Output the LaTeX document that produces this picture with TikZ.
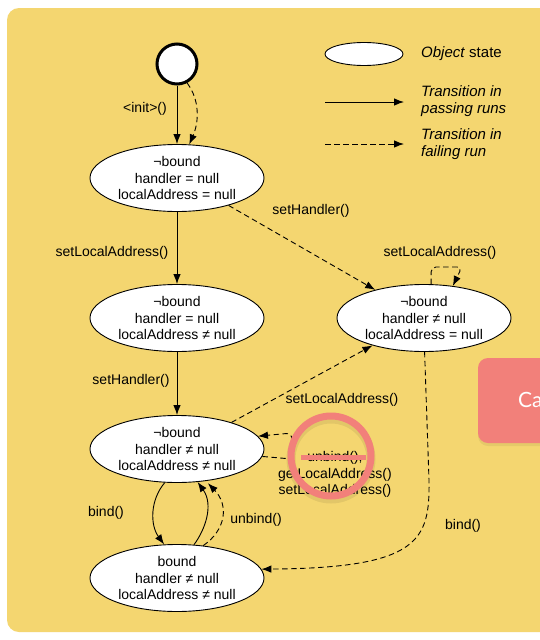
\documentclass[tikz,border=0pt]{standalone}
\usepackage{fontspec}
\setmainfont{Liberation Sans}
\newfontfamily\decofont{Lato}
\usetikzlibrary{arrows.meta,shapes.geometric}
\definecolor{bgyellow}{RGB}{244,214,112}
\definecolor{salmon}{RGB}{242,128,122}
\begin{document}
\begin{tikzpicture}[x=1pt,y=-1pt,
  state/.style={ellipse,draw,line width=0.9pt,fill=white,minimum width=174pt,minimum height=67pt,inner sep=0pt,align=center,font=\fontsize{14}{16.4}\selectfont},
  lbl/.style={inner sep=0pt,font=\fontsize{14}{16.4}\selectfont},
  legtext/.style={anchor=west,inner sep=0pt,align=left,font=\fontsize{15}{17}\selectfont},
  pass/.style={line width=0.9pt,-{Latex[length=10pt,width=7.5pt]}},
  fail/.style={pass,dash pattern=on 5.5pt off 3.5pt}]
\useasboundingbox (0,0) rectangle (540,640);
\fill[white] (0,0) rectangle (540,640);
\fill[bgyellow,rounded corners=12pt] (7,8) rectangle (570,632);
% decoration box at right
\fill[black,opacity=0.06,rounded corners=10pt] (478,361) rectangle (580,446);
\fill[salmon,rounded corners=10pt] (478,358) rectangle (580,443);
\node[anchor=base west,inner sep=0pt,text=white,font=\decofont\fontsize{21}{21}\selectfont] (ca) at (518,407) {Ca};

% legend
\node[ellipse,draw,line width=0.9pt,fill=white,minimum width=78pt,minimum height=23pt,inner sep=0pt] (lg) at (364,54) {};
\node[legtext] (lgt) at (421,54) {\textit{Object} state};
\coordinate (ls1) at (325,102);
\coordinate (ls2) at (404,102);
\draw[pass] (ls1) -- (ls2);
\node[legtext,font=\fontsize{15}{17}\selectfont\itshape] (lpt) at (421,101) {Transition in\\passing runs};
\coordinate (ld1) at (325,144);
\coordinate (ld2) at (404,144);
\draw[fail] (ld1) -- (ld2);
\node[legtext,font=\fontsize{15}{17}\selectfont\itshape] (lft) at (421,144) {Transition in\\failing run};

% states
\node[circle,draw,line width=3pt,fill=white,minimum size=40pt,inner sep=0pt] (start) at (177,64) {};
\node[state] (e1) at (177,178) {¬bound\\handler = null\\localAddress = null};
\node[state] (e2) at (177,318) {¬bound\\handler = null\\localAddress ≠ null};
\node[state] (e3) at (424,318) {¬bound\\handler ≠ null\\localAddress = null};
\node[state] (e4) at (177,449) {¬bound\\handler ≠ null\\localAddress ≠ null};
\node[state] (e5) at (177,578) {bound\\handler ≠ null\\localAddress ≠ null};

% transitions
\draw[pass] (start.south) -- (e1.north);
\draw[fail] (start.-62) .. controls (200,100) and (199,122) .. (e1.70);
\draw[pass] (e1.south) -- (e2.north);
\draw[fail] (e1.-28) -- (e3.150);
\draw[pass] (e2.south) -- (e4.north);
\draw[fail,rounded corners=5pt] (e3.78) -- (431,267) -- (462,267) -- (e3.48);
\draw[fail] (e4.26) -- (e3.208);
\draw[fail,rounded corners=6pt] (e4.-5) -- (292,459) -- (292,433) -- (e4.9);
\draw[pass] (e4.-110) .. controls (150,500) and (150,525) .. (e5.111);
\draw[pass] (e5.63) .. controls (205,530) and (214,505) .. (e4.-58);
\draw[fail,shorten >=3pt] (e5.51) .. controls (226,530) and (229,505) .. (e4.-48);
\draw[fail] (e3.-89) -- (429,480) .. controls (430,540) and (420,568) .. (e5.6);

% labels
\node[lbl] (l1) at (145,109) {<init>()};
\node[lbl] (l2) at (311,211) {setHandler()};
\node[lbl] (l3) at (112,253) {setLocalAddress()};
\node[lbl] (l4) at (440,253) {setLocalAddress()};
\node[lbl] (l5) at (131,381) {setHandler()};
\node[lbl] (l6) at (342,400) {setLocalAddress()};
\node[lbl,align=center] (l7) at (335,474.5) {unbind(),\\getLocalAddress()\\setLocalAddress()};
\node[lbl] (l8) at (106,513) {bind()};
\node[lbl] (l9) at (256,520) {unbind()};
\node[lbl] (l10) at (463,526) {bind()};

% highlight ring
\draw[black,opacity=0.07,line width=9pt] (331,459) circle (40pt);
\draw[salmon,line width=7pt] (331,456) circle (40pt);
\draw[salmon,line width=5pt] (301,457) -- (366,457);
\end{tikzpicture}
\end{document}
